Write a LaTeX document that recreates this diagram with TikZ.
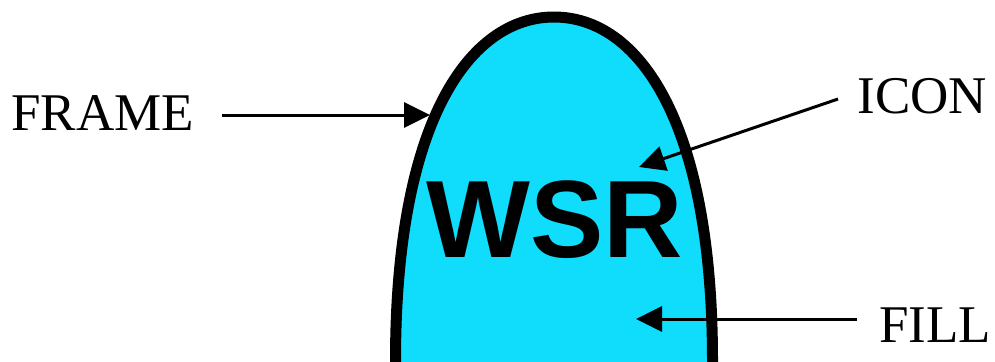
\documentclass[tikz,border=0pt]{standalone}
\usepackage{fontspec}
\setmainfont{Liberation Serif}
\newfontfamily\wsrfont{Liberation Sans}
\usetikzlibrary{arrows.meta}
\definecolor{fillcyan}{RGB}{16,220,252}
\begin{document}
\begin{tikzpicture}[x=0.5pt,y=-0.5pt,
  lbl/.style={inner sep=0pt, anchor=base west, font=\fontsize{26.5pt}{30pt}\selectfont},
  arr/.style={line width=1.5pt, -{Triangle[length=13pt,width=12.5pt]}},
  archline/.style={line width=5.5pt, draw=black, fill=fillcyan}]
\useasboundingbox (0,0) rectangle (995,361);
% arch (frame + fill)
\path[archline] (395.5,372) -- (395.5,361) .. controls (395.5,120) and (470,17) .. (554,17)
  .. controls (638,17) and (712.5,120) .. (712.5,361) -- (712.5,372);
% icon text
\node[font=\wsrfont\bfseries\fontsize{55pt}{60pt}\selectfont, inner sep=0pt, anchor=base] (wsr) at (555,257) {WSR};
% labels
\node[lbl] (frame) at (11,130) {FRAME};
\node[lbl] (icon) at (857,113) {ICON};
\node[lbl] (fill) at (879,342) {FILL};
% connector end points
\coordinate (frameStart) at (222,115);
\coordinate (frameTip) at (430,115);
\coordinate (iconStart) at (838,99);
\coordinate (iconTip) at (639,167);
\coordinate (fillStart) at (857,319);
\coordinate (fillTip) at (636,319);
\draw[arr] (frameStart) -- (frameTip);
\draw[arr] (iconStart) -- (iconTip);
\draw[arr] (fillStart) -- (fillTip);
\end{tikzpicture}
\end{document}
